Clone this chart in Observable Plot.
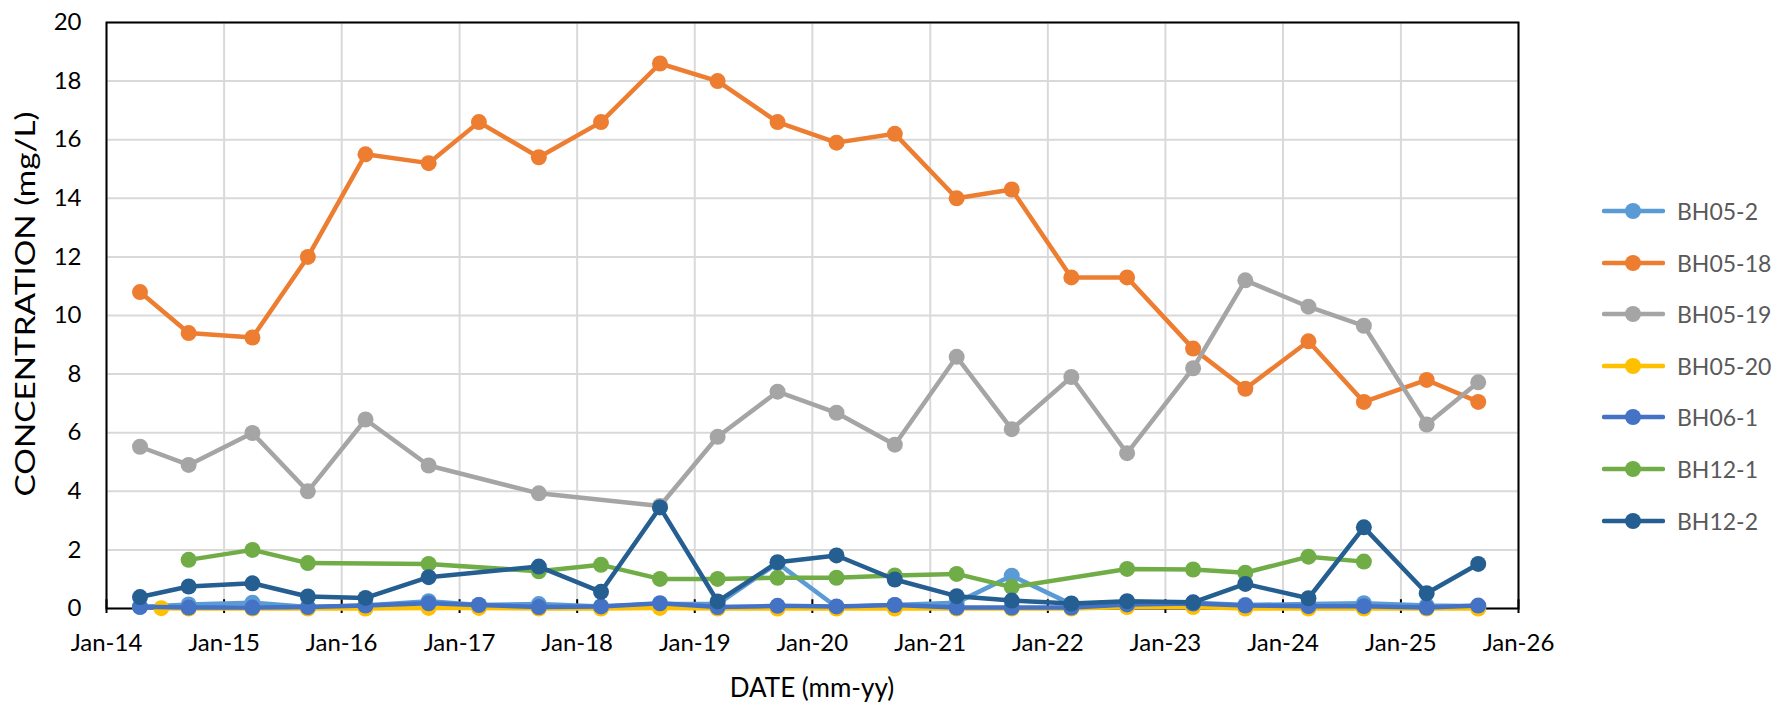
<!DOCTYPE html>
<html><head><meta charset="utf-8">
<script src="https://cdn.jsdelivr.net/npm/d3@7"></script>
<script src="https://cdn.jsdelivr.net/npm/@observablehq/plot@0.6"></script>
<style>
html,body{margin:0;padding:0;background:#fff;}
#wrap{position:relative;width:1792px;height:709px;font-family:Lato,"Open Sans",sans-serif;}
#legend{position:absolute;left:1602px;top:0;}
.item{position:absolute;left:0;display:flex;align-items:center;height:30px;white-space:nowrap;}
.item span{font-size:23px;color:#595959;margin-left:12px;font-family:Lato,"Open Sans",sans-serif;}
</style></head><body><div id="wrap"><div id="legend"></div></div>
<script>
// sampling events
const sampleDates = ["2014-04-15","2014-09-13","2015-03-30","2015-09-18","2016-03-15","2016-09-27","2017-03-02","2017-09-04","2018-03-16","2018-09-15","2019-03-13","2019-09-15","2020-03-16","2020-09-13","2021-03-24","2021-09-11","2022-03-15","2022-09-04","2023-03-28","2023-09-06","2024-03-20","2024-09-08","2025-03-22","2025-08-29"];
const bh0520Dates = ["2014-06-20","2014-09-13","2015-03-30","2015-09-18","2016-03-15","2016-09-27","2017-03-02","2017-09-04","2018-03-16","2018-09-15","2019-03-13","2019-09-15","2020-03-16","2020-09-13","2021-03-24","2021-09-11","2022-03-15","2022-09-04","2023-03-28","2023-09-06","2024-03-20","2024-09-08","2025-03-22","2025-08-29"];

const seriesNames  = ["BH05-2","BH05-18","BH05-19","BH05-20","BH06-1","BH12-1","BH12-2"];
const seriesColors = ["#5B9BD5","#ED7D31","#A5A5A5","#FFC000","#4472C4","#70AD47","#255E91"];

const BH05_2  = [0.05,0.14,0.2,0.05,0.1,0.25,0.12,0.15,0.07,0.15,0.15,1.55,0.05,0.12,0.2,1.12,0.15,0.2,0.2,0.12,0.15,0.18,0.1,0.08];
const BH05_18 = [10.8,9.4,9.25,12.0,15.5,15.2,16.6,15.4,16.6,18.6,18.0,16.6,15.9,16.2,14.0,14.3,11.3,11.3,8.87,7.5,9.12,7.05,7.8,7.05];
const BH05_19 = [5.52,4.9,5.99,4.0,6.45,4.88,null,3.93,null,3.5,5.86,7.4,6.68,5.59,8.59,6.12,7.9,5.3,8.2,11.2,10.3,9.65,6.28,7.72];
const BH05_20 = [0.01,0.0,0.0,0.0,0.0,0.02,0.02,0.0,0.0,0.02,0.0,0.0,0.0,0.0,0.0,0.0,0.0,0.05,0.05,0.0,0.0,0.0,0.0,0.0];
const BH06_1  = [0.06,0.03,0.03,0.05,0.1,0.18,0.12,0.05,0.07,0.18,0.05,0.09,0.07,0.12,0.03,0.03,0.03,0.14,0.17,0.1,0.08,0.08,0.03,0.1];
const BH12_1  = [null,1.66,2.0,1.55,null,1.52,null,1.27,1.49,1.01,1.01,1.05,1.05,1.13,1.18,0.73,null,1.35,1.33,1.22,1.77,1.6,null,null];
const BH12_2  = [0.39,0.75,0.86,0.41,0.36,1.07,null,1.43,0.57,3.45,0.24,1.58,1.81,0.99,0.42,0.27,0.17,0.25,0.21,0.84,0.35,2.77,0.52,1.52];

const yTicks = [0,2,4,6,8,10,12,14,16,18,20];
const xTickYears = [2014,2015,2016,2017,2018,2019,2020,2021,2022,2023,2024,2025,2026];

const seriesValues = [BH05_2,BH05_18,BH05_19,BH05_20,BH06_1,BH12_1,BH12_2];
const seriesDates  = [sampleDates,sampleDates,sampleDates,bh0520Dates,sampleDates,sampleDates,sampleDates];

const parse = d3.utcParse("%Y-%m-%d");
const seriesRows = seriesNames.map((name, k) =>
  seriesValues[k].map((v, i) => ({series: name, date: parse(seriesDates[k][i]), value: v}))
    .filter(d => d.value != null));

const years = xTickYears.map(y => new Date(Date.UTC(y, 0, 1)));

const chart = Plot.plot({
  width: 1792,
  height: 709,
  marginLeft: 106,
  marginRight: 274,
  marginTop: 22,
  marginBottom: 101,
  style: {fontFamily: "Lato, 'Open Sans', sans-serif", color: "black", background: "white", overflow: "visible"},
  x: {type: "utc", domain: [years[0], years[years.length - 1]]},
  y: {domain: [0, 20]},
  marks: [
    Plot.gridY(yTicks, {stroke: "#d9d9d9", strokeWidth: 2, strokeOpacity: 1}),
    Plot.gridX(years, {stroke: "#d9d9d9", strokeWidth: 2, strokeOpacity: 1}),
    Plot.frame({stroke: "black", strokeWidth: 2}),
    Plot.ruleX(years, {x: d => d, y1: 0, y2: 0.3, stroke: "black", strokeWidth: 2}),
    Plot.axisY(yTicks, {tickSize: 0, tickPadding: 25, fontSize: 24, label: null}),
    Plot.axisX(years, {tickSize: 5, tickPadding: 20, fontSize: 24, strokeWidth: 2, tickFormat: d3.utcFormat("%b-%y"), label: null}),
    ...seriesRows.flatMap((rows, k) => [
      Plot.line(rows, {x: "date", y: "value", stroke: seriesColors[k], strokeWidth: 4.5, strokeLinejoin: "round", strokeLinecap: "round"}),
      Plot.dot(rows, {x: "date", y: "value", r: 8, fill: seriesColors[k], stroke: "none"})
    ])
  ]
});

const svg = d3.select(chart);
svg.append("text")
  .attr("x", 812).attr("y", 697)
  .attr("text-anchor", "middle")
  .attr("font-size", 26).attr("fill", "black")
  .text("DATE (mm-yy)");
svg.append("text")
  .attr("transform", "translate(35,304) rotate(-90)")
  .attr("text-anchor", "middle")
  .attr("font-size", 27).attr("fill", "black")
  .attr("textLength", 385).attr("lengthAdjust", "spacingAndGlyphs")
  .text("CONCENTRATION (mg/L)");

const wrap = document.getElementById("wrap");
wrap.insertBefore(chart, wrap.firstChild);

const legend = document.getElementById("legend");
seriesNames.forEach((name, k) => {
  const item = document.createElement("div");
  item.className = "item";
  item.style.top = (211 + 51.6 * k - 15) + "px";
  item.innerHTML = `<svg width="63" height="30"><line x1="2" y1="15" x2="61" y2="15" stroke="${seriesColors[k]}" stroke-width="4.5" stroke-linecap="round"/><circle cx="31" cy="15" r="8" fill="${seriesColors[k]}"/></svg><span>${name}</span>`;
  legend.appendChild(item);
});
</script></body></html>
